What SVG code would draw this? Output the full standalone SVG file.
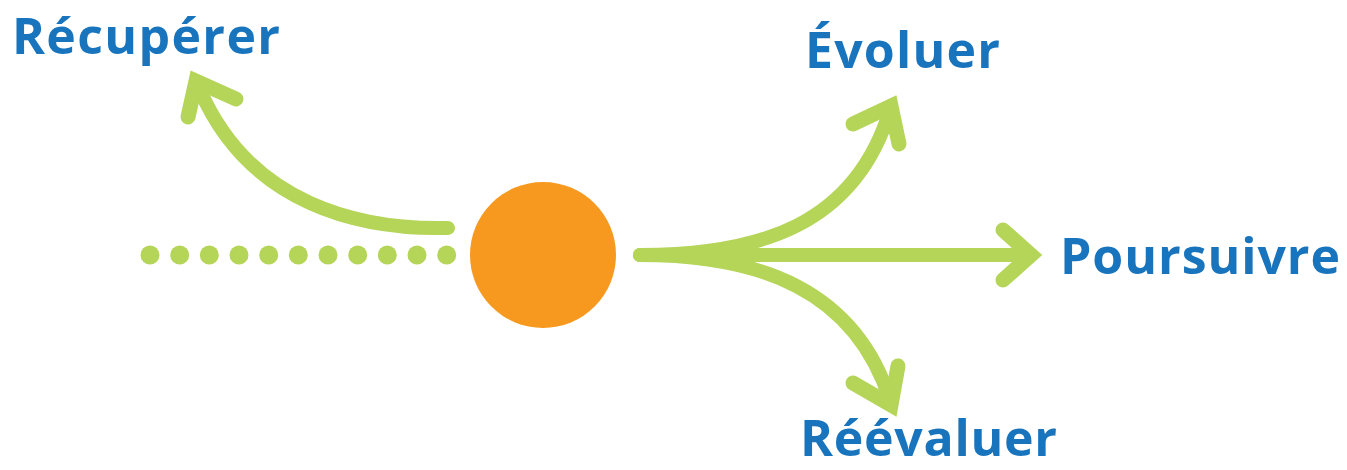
<svg xmlns="http://www.w3.org/2000/svg" width="1347" height="470" viewBox="0 0 1347 470">
<style>
.lbl{font-family:"Open Sans","Liberation Sans",sans-serif;font-weight:700;font-size:50px;fill:#1874bd}
.ln{fill:none;stroke:#b5d558;stroke-width:14;stroke-linecap:round}
.hd{fill:none;stroke:#b5d558;stroke-width:15;stroke-linecap:round;stroke-linejoin:miter;stroke-miterlimit:10}
.dot{fill:#b5d558}
</style>
<rect width="1347" height="470" fill="#ffffff"/>
<g id="dots">
<circle class="dot" cx="150" cy="255" r="9.5"/>
<circle class="dot" cx="179.7" cy="255" r="9.5"/>
<circle class="dot" cx="209.3" cy="255" r="9.5"/>
<circle class="dot" cx="239" cy="255" r="9.5"/>
<circle class="dot" cx="268.7" cy="255" r="9.5"/>
<circle class="dot" cx="298.3" cy="255" r="9.5"/>
<circle class="dot" cx="328" cy="255" r="9.5"/>
<circle class="dot" cx="357.7" cy="255" r="9.5"/>
<circle class="dot" cx="387.3" cy="255" r="9.5"/>
<circle class="dot" cx="417" cy="255" r="9.5"/>
<circle class="dot" cx="446.7" cy="255" r="9.5"/>
</g>
<g id="center">
<circle cx="543" cy="255" r="73" fill="#f7991f"/>
</g>
<g id="connectors">
<path class="ln" d="M448,228 C360,230 250,205 200,90"/>
<polyline class="hd" points="188,117 196,81 236,99"/>
<path class="ln" d="M640,255 C760,255 855,225 890,110"/>
<polyline class="hd" points="853,124 891,106 899,144"/>
<path class="ln" d="M640,255 L1030,255"/>
<polyline class="hd" points="1003,230 1031,255 1003,280"/>
<path class="ln" d="M640,255 C760,255 855,290 890,400"/>
<polyline class="hd" points="853,383 891,405 898,366"/>
</g>
<g id="recuperer"><text class="lbl" x="12" y="54" textLength="268" lengthAdjust="spacing">Récupérer</text></g>
<g id="evoluer"><text class="lbl" x="805" y="68" textLength="195" lengthAdjust="spacing">Évoluer</text></g>
<g id="poursuivre"><text class="lbl" x="1060" y="274" textLength="280" lengthAdjust="spacing">Poursuivre</text></g>
<g id="reevaluer"><text class="lbl" x="800" y="456" textLength="257" lengthAdjust="spacing">Réévaluer</text></g>
</svg>
